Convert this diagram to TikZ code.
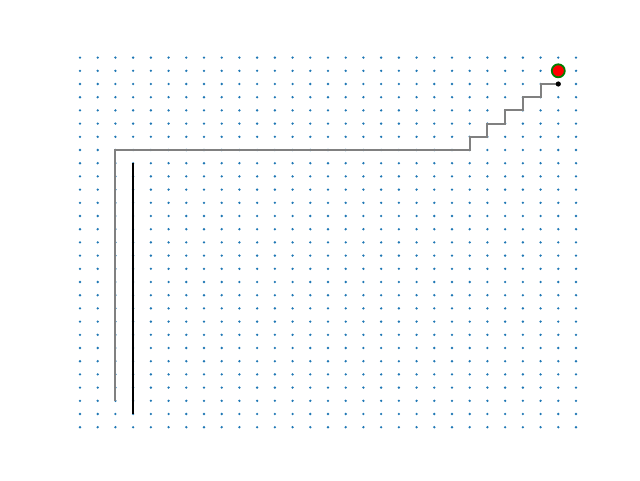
\documentclass[tikz,border=0pt]{standalone}
\definecolor{dotblue}{HTML}{1F77B4}
\definecolor{pathgray}{HTML}{808080}
\tikzset{
  griddot/.style={fill=dotblue,draw=none},
  route/.style={draw=pathgray,line width=2pt},
  wall/.style={draw=black,line width=2pt},
  goal/.style={fill=red,draw=green!50!black,line width=1.8pt},
  enddot/.style={fill=black,draw=none}
}
\begin{document}
\begin{tikzpicture}[x=1pt,y=-1pt]
\useasboundingbox (0,0) rectangle (640,480);
\pgfmathsetmacro{\dx}{496/28}
\pgfmathsetmacro{\dy}{369.6/28}
\foreach \i in {0,...,28}{
  \foreach \j in {0,...,28}{
    \fill[griddot] ({80+\i*\dx},{57.6+\j*\dy}) circle (1.3);
  }
}
% named grid points
\coordinate (s) at ({80+2*\dx},{57.6+26*\dy});
\coordinate (c1) at ({80+2*\dx},{57.6+7*\dy});
\coordinate (c2) at ({80+22*\dx},{57.6+7*\dy});
\coordinate (e) at ({80+27*\dx},{57.6+2*\dy});
\coordinate (g) at ({80+27*\dx},{57.6+1*\dy});
\coordinate (wt) at ({80+3*\dx},{57.6+8*\dy});
\coordinate (wb) at ({80+3*\dx},{57.6+27*\dy});
\draw[wall] (wt) -- (wb);
\draw[route] (s) -- (c1) -- (c2)
  -- ++(0,-\dy) -- ++(\dx,0)
  -- ++(0,-\dy) -- ++(\dx,0)
  -- ++(0,-\dy) -- ++(\dx,0)
  -- ++(0,-\dy) -- ++(\dx,0)
  -- ++(0,-\dy) -- ++(\dx,0);
\fill[enddot] (e) circle (2.6);
\draw[goal] (g) circle (6.5);
\end{tikzpicture}
\end{document}
